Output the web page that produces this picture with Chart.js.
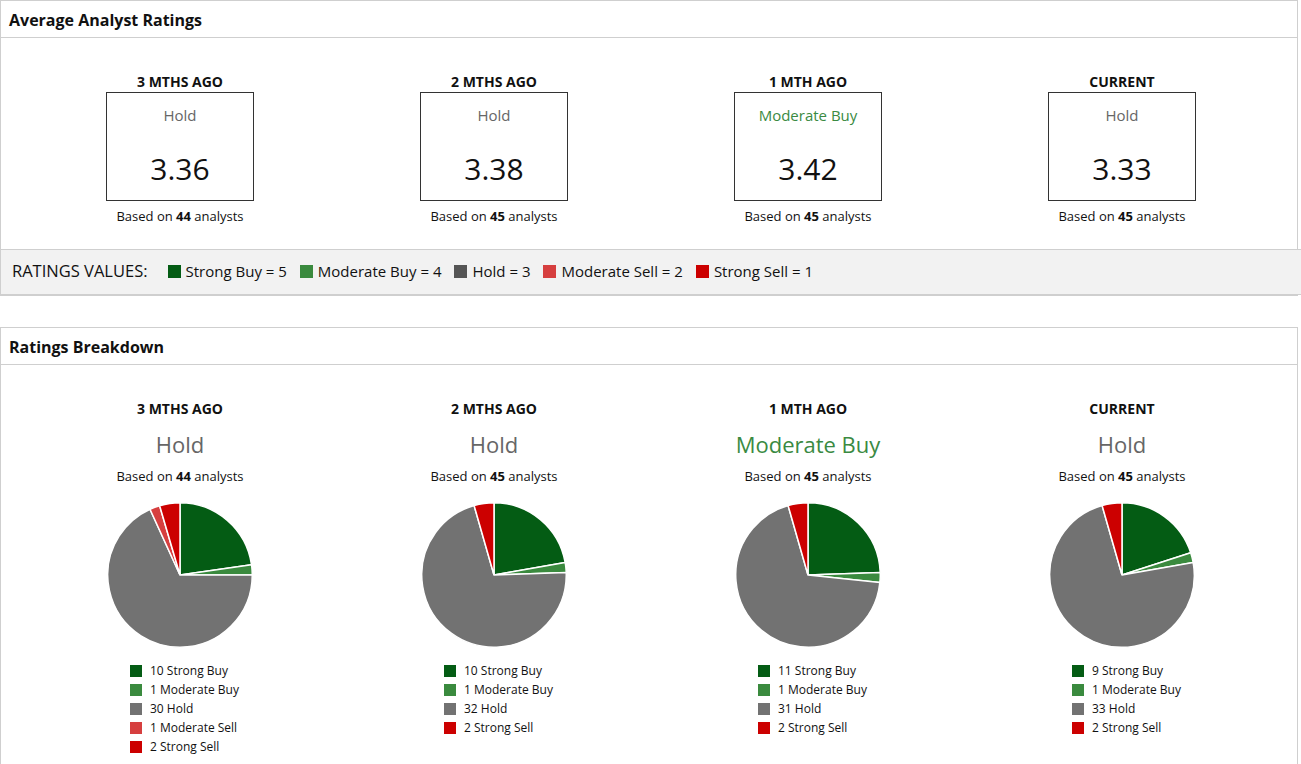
<!DOCTYPE html>
<html>
<head>
<meta charset="utf-8">
<script src="https://cdn.jsdelivr.net/npm/chart.js@4"></script>
<style>
  body { margin: 0; background: #fff; font-family: "Open Sans", "Noto Sans", sans-serif; color: #111; width: 1301px; height: 764px; overflow: hidden; position: relative; }
  .panel { position: absolute; left: 0; width: 1296px; border: 1px solid #cfcfcf; background: #fff; }
  .panel-head { height: 36px; border-bottom: 1px solid #cfcfcf; font-weight: bold; font-size: 16px; line-height: 38px; padding-left: 8px; }
  .col { position: absolute; width: 314px; text-align: center; }
  .period { font-weight: bold; font-size: 14px; }
  .box { position: absolute; left: 83px; width: 146px; height: 107px; border: 1px solid #333; }
  .box .lbl { position: absolute; left: 0; right: 0; top: 12px; font-size: 15px; color: #666; }
  .box .val { position: absolute; left: 0; right: 0; top: 55px; font-size: 30px; color: #111; }
  .based { font-size: 13px; }
  .bar { position: absolute; left: 0; top: 249px; width: 1296px; height: 44px; background: #f2f2f2; border: 1px solid #cfcfcf; line-height: 42px; padding-left: 11px; box-sizing: content-box; }
  .bar .head { font-size: 16.5px; margin-right: 20px; }
  .bar .sw { display: inline-block; width: 13px; height: 13px; margin: 0 5px 0 0; vertical-align: -1px; }
  .bar .it { margin-right: 13px; font-size: 15px; }
  .big { font-size: 22px; color: #666; }
  .legend { position: absolute; left: 107px; text-align: left; font-size: 12px; }
  .legend div { height: 19px; line-height: 19px; white-space: nowrap; }
  .legend .sw { display: inline-block; width: 12px; height: 12px; margin-right: 8px; vertical-align: -2px; }
</style>
</head>
<body>
<div class="panel" style="top:0; height:294px;"><div class="panel-head">Average Analyst Ratings</div></div>
<div class="bar" id="ratingBar"><span class="head">RATINGS VALUES:</span></div>
<div class="panel" style="top:327px; height:460px;"><div class="panel-head">Ratings Breakdown</div></div>
<div id="cols"></div>
<script>
// Rating categories and colours
const categories = ['Strong Buy', 'Moderate Buy', 'Hold', 'Moderate Sell', 'Strong Sell'];
const categoryScores = [5, 4, 3, 2, 1];
const categoryColors = ['#045c14', '#3a8a3e', '#727272', '#d63f3f', '#cc0000'];
const barColors = ['#045c14', '#3a8a3e', '#555555', '#d63f3f', '#cc0000'];

// Periods
const periods = ['3 MTHS AGO', '2 MTHS AGO', '1 MTH AGO', 'CURRENT'];
const avgRatings = ['3.36', '3.38', '3.42', '3.33'];
const ratingLabels = ['Hold', 'Hold', 'Moderate Buy', 'Hold'];
const analysts = [44, 45, 45, 45];

// Analyst counts per category, one array per period
const counts3m = [10, 1, 30, 1, 2];
const counts2m = [10, 1, 32, 0, 2];
const counts1m = [11, 1, 31, 0, 2];
const countsNow = [9, 1, 33, 0, 2];
const allCounts = [counts3m, counts2m, counts1m, countsNow];

function labelColor(l) {
  return l === 'Moderate Buy' ? '#3a8a42' : '#666';
}

// ratings values bar
const bar = document.getElementById('ratingBar');
categories.forEach((c, i) => {
  bar.insertAdjacentHTML('beforeend',
    '<span class="it"><span class="sw" style="background:' + barColors[i] + '"></span>' + c + ' = ' + categoryScores[i] + '</span>');
});

const cols = document.getElementById('cols');
periods.forEach((p, i) => {
  const left = 23 + 314 * i;
  // top summary
  const top = document.createElement('div');
  top.className = 'col';
  top.style.left = left + 'px';
  top.style.top = '0px';
  top.innerHTML =
    '<div class="period" style="position:absolute;left:0;right:0;top:72px">' + p + '</div>' +
    '<div class="box" style="top:92px"><div class="lbl" style="color:' + labelColor(ratingLabels[i]) + '">' + ratingLabels[i] + '</div>' +
    '<div class="val">' + avgRatings[i] + '</div></div>' +
    '<div class="based" style="position:absolute;left:0;right:0;top:207px">Based on <b>' + analysts[i] + '</b> analysts</div>';
  cols.appendChild(top);

  // breakdown
  const bot = document.createElement('div');
  bot.className = 'col';
  bot.style.left = left + 'px';
  bot.style.top = '0px';
  let html =
    '<div class="period" style="position:absolute;left:0;right:0;top:399px">' + p + '</div>' +
    '<div class="big" style="position:absolute;left:0;right:0;top:429px;color:' + labelColor(ratingLabels[i]) + '">' + ratingLabels[i] + '</div>' +
    '<div class="based" style="position:absolute;left:0;right:0;top:467px">Based on <b>' + analysts[i] + '</b> analysts</div>' +
    '<canvas id="pie' + i + '" width="146" height="146" style="position:absolute;left:84px;top:502px;width:146px;height:146px"></canvas>';
  html += '<div class="legend" style="top:661px">';
  allCounts[i].forEach((n, k) => {
    if (n > 0) {
      html += '<div><span class="sw" style="background:' + categoryColors[k] + '"></span>' + n + ' ' + categories[k] + '</div>';
    }
  });
  html += '</div>';
  bot.innerHTML = html;
  cols.appendChild(bot);

  new Chart(document.getElementById('pie' + i).getContext('2d'), {
    type: 'pie',
    data: {
      labels: categories,
      datasets: [{
        data: allCounts[i],
        backgroundColor: categoryColors,
        borderColor: '#fff',
        borderWidth: 1.5,
        hoverOffset: 0
      }]
    },
    options: {
      responsive: false,
      animation: false,
      devicePixelRatio: 1,
      plugins: { legend: { display: false }, tooltip: { enabled: false } }
    }
  });
});
</script>
</body>
</html>
